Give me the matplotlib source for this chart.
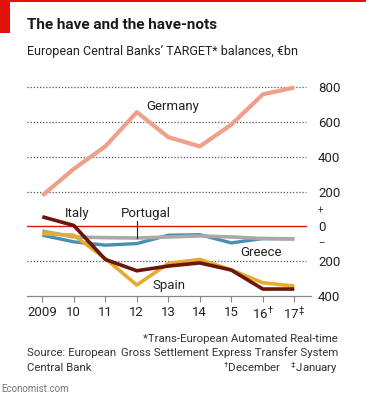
import matplotlib
matplotlib.use("Agg")
import matplotlib.pyplot as plt
from matplotlib.patches import Rectangle

FONT = "Roboto"
plt.rcParams["font.family"] = [FONT, "DejaVu Sans"]
plt.rcParams["mathtext.fontset"] = "custom"
plt.rcParams["mathtext.rm"] = FONT

years = ["2009", "10", "11", "12", "13", "14", "15", "16$^{\u2020}$", "17$^{\u2021}$"]
germany = [177, 330, 459, 656, 512, 459, 584, 758, 797]
italy = [55, 5, -190, -255, -228, -210, -251, -360, -360]
spain = [-42, -51, -185, -337, -213, -190, -250, -324, -343]
greece = [-51, -89, -108, -99, -51, -48, -95, -70, -72]
portugal = [-27, -61, -65, -67, -61, -55, -61, -70, -72]
yticks = [800, 600, 400, 200, 0, -200, -400]
ytick_labels = ["800", "600", "400", "200", "0", "200", "400"]

W, H = 366, 400
fig = plt.figure(figsize=(W / 100, H / 100), dpi=100)
fig.patch.set_facecolor("white")

# red corner tag and top rule
fig.add_artist(Rectangle((0, 1 - 33 / H), 10 / W, 33 / H, transform=fig.transFigure, color="#e3120b", lw=0))
fig.add_artist(Rectangle((0, 1 - 1.5 / H), 1, 1.5 / H, transform=fig.transFigure, color="#e3120b", lw=0))

ax = fig.add_axes([27 / W, 1 - 296 / H, (311 - 27) / W, (296 - 85.3) / H])
x = range(len(years))
grid_end = (306 - 27) / (311 - 27)

for v in [800, 600, 400, 200, -200]:
    ax.axhline(v, xmax=grid_end, color="#555555", lw=0.9, ls=(0, (1, 1.5)), zorder=1)
ax.axhline(0, xmax=grid_end, color="#e3120b", lw=1.0, zorder=2)

ax.plot(x, germany, color="#f0a08a", lw=3.0, solid_capstyle="butt", zorder=3)
ax.plot(x, greece, color="#4a8fb0", lw=2.4, solid_capstyle="butt", zorder=3)
ax.plot(x, portugal, color="#a9a9a9", lw=2.6, solid_capstyle="butt", zorder=4)
ax.plot(x, spain, color="#e9a92c", lw=2.6, solid_capstyle="butt", zorder=5)
ax.plot(x, italy, color="#6b1608", lw=2.6, solid_capstyle="butt", zorder=6)

ax.set_xlim(-0.486, 8.53)
ax.set_ylim(-400, 810)
for s in ["top", "left", "right"]:
    ax.spines[s].set_visible(False)
ax.spines["bottom"].set_color("#888888")
ax.spines["bottom"].set_linewidth(0.9)

ax.set_xticks(list(x))
ax.set_xticklabels(years, fontsize=9.5, color="#222222")
ax.tick_params(axis="x", length=4.3, width=0.8, color="#888888", pad=3)
ax.yaxis.tick_right()
ax.set_yticks(yticks)
ax.set_yticklabels(ytick_labels, fontsize=9.5, color="#222222")
ax.tick_params(axis="y", length=0, pad=5)
ax.text(1.025, 88, "+", transform=ax.get_yaxis_transform(), fontsize=7, color="#333333", ha="left", va="center")
ax.text(1.025, -98, "\u2013", transform=ax.get_yaxis_transform(), fontsize=7, color="#333333", ha="left", va="center")

lab = dict(fontsize=9.5, color="#222222")
ax.text(3.29, 689, "Germany", ha="left", va="center", **lab)
ax.text(1.12, 76, "Italy", ha="center", va="center", **lab)
ax.text(3.29, 73, "Portugal", ha="center", va="center", **lab)
ax.plot([3, 3], [30, -66], color="#222222", lw=0.8, zorder=7)
ax.text(6.93, -153, "Greece", ha="center", va="center", **lab)
ax.text(4.01, -342, "Spain", ha="center", va="center", **lab)

fig.text(27 / W, 1 - 25 / H, "The have and the have-nots", fontsize=11, fontweight="bold", color="#1a1a1a", va="center")
fig.text(27 / W, 1 - 52 / H, "European Central Banks\u2019 TARGET* balances, \u20acbn", fontsize=9.0, color="#222222", va="center")

foot = dict(fontsize=8.2, color="#333333", va="center")
fig.text(338 / W, 1 - 339 / H, "*Trans-European Automated Real-time", ha="right", **foot)
fig.text(338 / W, 1 - 353 / H, "Gross Settlement Express Transfer System", ha="right", **foot)
fig.text(338 / W, 1 - 368 / H, "$^{\u2020}$December    $^{\u2021}$January", ha="right", **foot)
fig.text(27 / W, 1 - 353 / H, "Source: European", ha="left", **foot)
fig.text(27 / W, 1 - 368 / H, "Central Bank", ha="left", **foot)
fig.text(1 / W, 1 - 389 / H, "Economist.com", ha="left", fontsize=7, color="#777777", va="center")

fig.savefig("out.png", dpi=100, facecolor="white")
